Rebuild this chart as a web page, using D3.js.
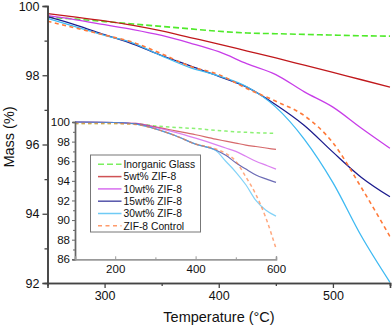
<!DOCTYPE html>
<html>
<head>
<meta charset="utf-8">
<script src="https://cdn.jsdelivr.net/npm/d3@7"></script>
<style>
  body { margin: 0; background: #fff; }
  text { font-family: "Liberation Sans", Arial, sans-serif; fill: #111; }
</style>
</head>
<body>
<script>
// main plot data (temperature in °C, mass in %)
const temps = [250, 275, 300, 325, 350, 375, 400, 425, 450, 475, 500, 525, 550]
const glass = [99.68, 99.62, 99.55, 99.48, 99.41, 99.34, 99.27, 99.22, 99.20, 99.18, 99.16, 99.14, 99.13]
const zif5 = [99.78, 99.68, 99.57, 99.44, 99.28, 99.09, 98.90, 98.70, 98.50, 98.29, 98.08, 97.87, 97.66]
const zif10 = [99.72, 99.60, 99.46, 99.32, 99.15, 98.93, 98.68, 98.33, 98.02, 97.52, 97.08, 96.47, 95.89]
const zif15 = [99.69, 99.45, 99.17, 98.90, 98.57, 98.27, 97.97, 97.65, 97.15, 96.55, 95.78, 95.05, 94.49]
const zif30 = [99.64, 99.40, 99.15, 98.93, 98.56, 98.22, 97.98, 97.66, 97.08, 96.15, 94.90, 93.35, 92.02]
const control = [99.56, 99.36, 99.16, 98.95, 98.62, 98.26, 98.02, 97.61, 97.25, 96.83, 96.05, 94.75, 93.34]

// inset data, full range
const insetTemps = [100, 200, 250, 300, 350, 400, 450, 475, 500, 525, 550, 575, 600]
const insetGlass = [99.85, 99.84, 99.80, 99.60, 99.45, 99.33, 99.15, 99.08, 99.00, 98.95, 98.90, 98.87, 98.85]
const insetZif5 = [100, 99.95, 99.85, 99.50, 99.10, 98.70, 98.25, 98.05, 97.85, 97.65, 97.50, 97.35, 97.20]
const insetZif10 = [100, 99.95, 99.85, 99.45, 98.95, 98.35, 97.70, 97.35, 97.00, 96.50, 96.00, 95.60, 95.20]
const insetZif15 = [100, 99.95, 99.80, 99.30, 98.60, 97.75, 97.15, 96.60, 95.85, 95.20, 94.60, 94.20, 93.85]
const insetZif30 = [100, 99.95, 99.80, 99.30, 98.60, 97.75, 97.10, 96.00, 94.90, 93.60, 92.00, 91.00, 90.40]
const insetControl = [99.85, 99.84, 99.75, 99.30, 98.60, 97.75, 97.25, 96.80, 96.00, 94.40, 92.60, 90.20, 87.10]

const names = ["Inorganic Glass", "5wt% ZIF-8", "10wt% ZIF-8", "15wt% ZIF-8", "30wt% ZIF-8", "ZIF-8 Control"]
const colors = ["#4fea2a", "#c0181c", "#c83ee8", "#1c1c8e", "#3fbaf2", "#ff7a3a"]
const dashes = ["6,3", null, null, null, null, "4,3.5"]

const yTicks = [92, 94, 96, 98, 100]
const xTicks = [300, 400, 500]
const insetYTicks = [86, 88, 90, 92, 94, 96, 98, 100]
const insetXTicks = [200, 400, 600]

const mainSeries = [glass, zif5, zif10, zif15, zif30, control]
const insetSeries = [insetGlass, insetZif5, insetZif10, insetZif15, insetZif30, insetControl]

var svg = d3.select("body")
          .append("svg")
          .attr("width", 392)
          .attr("height", 327)

const x = d3.scaleLinear().domain([250, 550]).range([47.5, 390])
const y = d3.scaleLinear().domain([92, 100]).range([283, 6])

svg.append("defs").append("clipPath")
  .attr("id", "clip")
  .append("rect")
  .attr("x", 47.5).attr("y", 0)
  .attr("width", 343).attr("height", 284)

//main curves
const line = d3.line()
  .x((d, i) => x(temps[i]))
  .y(d => y(d))
  .curve(d3.curveMonotoneX)

svg.append("g")
  .attr("clip-path", "url(#clip)")
  .selectAll("path")
  .data(mainSeries)
  .enter()
  .append("path")
  .attr("d", line)
  .attr("fill", "none")
  .attr("stroke", (d, i) => colors[i])
  .attr("stroke-width", (d, i) => dashes[i] ? 1.6 : 1.3)
  .attr("stroke-dasharray", (d, i) => dashes[i])

//main axes
const yAxis = svg.append("g")
  .attr("transform", "translate(47.5,0)")
  .call(d3.axisLeft(y).tickValues(yTicks).tickSize(5).tickPadding(3))
const yMinor = svg.append("g")
  .attr("transform", "translate(47.5,0)")
  .call(d3.axisLeft(y).tickValues([93, 95, 97, 99]).tickSize(3).tickFormat(""))

const xAxis = svg.append("g")
  .attr("transform", "translate(0,283)")
  .call(d3.axisBottom(x).tickValues(xTicks).tickSize(5).tickPadding(3))
const xMinor = svg.append("g")
  .attr("transform", "translate(0,283)")
  .call(d3.axisBottom(x).tickValues([350, 450, 550]).tickSize(3).tickFormat(""))

;[yAxis, yMinor, xAxis, xMinor].forEach(g => {
  g.select(".domain").attr("stroke", "#444").attr("stroke-width", 1.6)
  g.selectAll(".tick line").attr("stroke", "#444").attr("stroke-width", 1.3)
  g.selectAll("text").attr("font-size", 12.5).attr("fill", "#111")
    .style("font-family", "'Liberation Sans', Arial, sans-serif")
})

svg.append("text")
  .attr("transform", "translate(14,137) rotate(-90)")
  .attr("text-anchor", "middle")
  .attr("font-size", 14.5)
  .text("Mass (%)")

svg.append("text")
  .attr("x", 219)
  .attr("y", 322)
  .attr("text-anchor", "middle")
  .attr("font-size", 14.5)
  .text("Temperature (°C)")

//inset
const ix = d3.scaleLinear().domain([100, 600]).range([75, 276])
const iy = d3.scaleLinear().domain([86, 100]).range([259.3, 122])

const insetLine = d3.line()
  .x((d, i) => ix(insetTemps[i]))
  .y(d => iy(d))
  .curve(d3.curveMonotoneX)

svg.append("g")
  .selectAll("path")
  .data(insetSeries)
  .enter()
  .append("path")
  .attr("d", insetLine)
  .attr("fill", "none")
  .attr("stroke", (d, i) => colors[i])
  .attr("stroke-opacity", 0.65)
  .attr("stroke-width", (d, i) => dashes[i] ? 1.5 : 1.2)
  .attr("stroke-dasharray", (d, i) => dashes[i] ? "3.5,3" : null)

const iyAxis = svg.append("g")
  .attr("transform", "translate(75,0)")
  .call(d3.axisLeft(iy).tickValues(insetYTicks).tickSize(3).tickPadding(2))
const iyMinor = svg.append("g")
  .attr("transform", "translate(75,0)")
  .call(d3.axisLeft(iy).tickValues([87, 89, 91, 93, 95, 97, 99]).tickSize(2).tickFormat(""))
const ixAxis = svg.append("g")
  .attr("transform", "translate(0,259.3)")
  .call(d3.axisBottom(ix).tickValues(insetXTicks).tickSize(-3).tickPadding(6))
const ixMinor = svg.append("g")
  .attr("transform", "translate(0,259.3)")
  .call(d3.axisBottom(ix).tickValues([300, 500]).tickSize(-2).tickFormat(""))

;[iyAxis, iyMinor].forEach(g => {
  g.select(".domain").attr("stroke", "#666").attr("stroke-width", 1.4)
  g.selectAll(".tick line").attr("stroke", "#666")
})
;[ixAxis, ixMinor].forEach(g => {
  g.select(".domain").attr("stroke", "#999").attr("stroke-width", 1.4)
  g.selectAll(".tick line").attr("stroke", "#999")
})
;[iyAxis, ixAxis].forEach(g => {
  g.selectAll("text").attr("font-size", 11.5).attr("fill", "#111")
    .style("font-family", "'Liberation Sans', Arial, sans-serif")
})

//legend
const legend = svg.append("g").attr("id", "legend")

legend.append("rect")
  .attr("x", 90.5)
  .attr("y", 155)
  .attr("width", 110)
  .attr("height", 77)
  .attr("fill", "#fff")
  .attr("stroke", "#777")
  .attr("stroke-width", 1)

const items = legend.selectAll(".item")
  .data(names)
  .enter()
  .append("g")
  .attr("class", "item")
  .attr("transform", (d, i) => "translate(0," + (164.3 + i * 12.3) + ")")

items.append("line")
  .attr("x1", 98)
  .attr("x2", 121.5)
  .attr("stroke", (d, i) => colors[i])
  .attr("stroke-opacity", 0.75)
  .attr("stroke-width", 1.5)
  .attr("stroke-dasharray", (d, i) => dashes[i])

items.append("text")
  .attr("x", 123.5)
  .attr("y", 3.7)
  .attr("font-size", 10.3)
  .text(d => d)
</script>
</body>
</html>
